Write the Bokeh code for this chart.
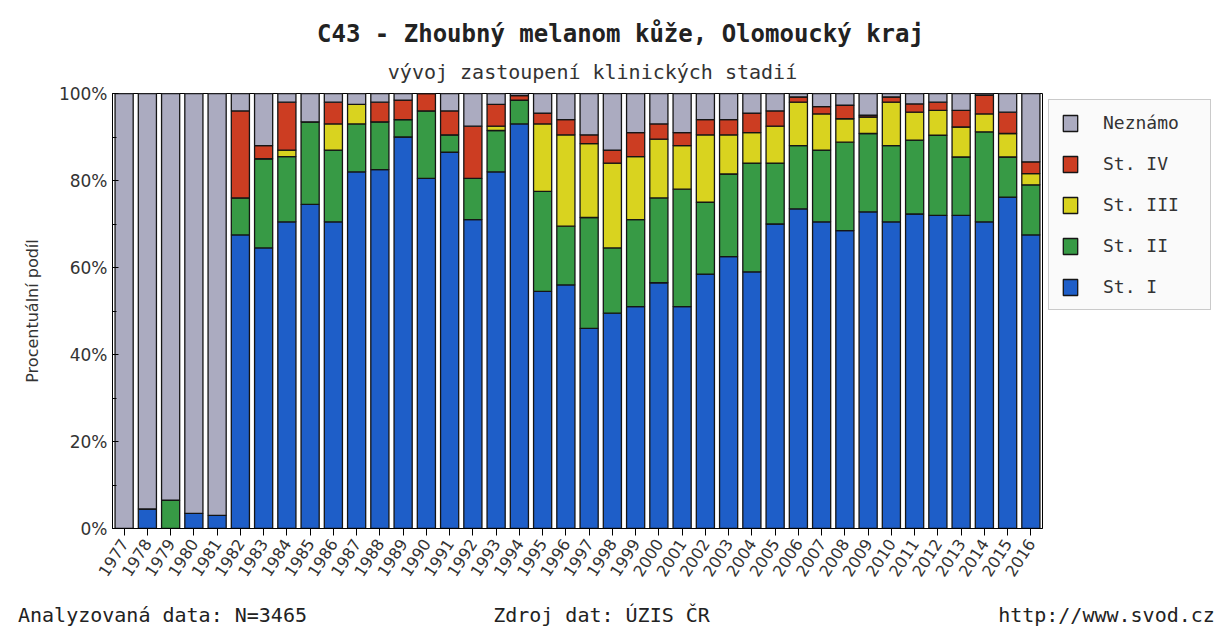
from bokeh.plotting import figure
from bokeh.models import (Range1d, FixedTicker, PrintfTickFormatter, Legend,
                          LegendItem, Label, ColumnDataSource, LinearAxis)
from bokeh.layouts import column
from bokeh.embed import file_html
from bokeh.resources import INLINE

years = list(range(1977, 2017))

st1 = [0, 4.5, 0, 3.5, 3, 67.5, 64.5, 70.5, 74.5, 70.5, 82, 82.5, 90, 80.5, 86.5, 71, 82, 93,
       54.5, 56, 46, 49.5, 51, 56.5, 51, 58.5, 62.5, 59, 70, 73.5, 70.5, 68.5, 72.8, 70.5,
       72.3, 72, 72, 70.5, 76.2, 67.5]
st2 = [0, 0, 6.5, 0, 0, 8.5, 20.5, 15, 19, 16.5, 11, 11, 4, 15.5, 4, 9.5, 9.5, 5.5,
       23, 13.5, 25.5, 15, 20, 19.5, 27, 16.5, 19, 25, 14, 14.5, 16.5, 20.3, 18, 17.5,
       17, 18.4, 13.4, 20.7, 9.2, 11.5]
st3 = [0, 0, 0, 0, 0, 0, 0, 1.5, 0, 6, 4.5, 0, 0, 0, 0, 0, 1, 0,
       15.5, 21, 17, 19.5, 14.5, 13.5, 10, 15.5, 9, 7, 8.5, 10, 8.3, 5.4, 3.8, 10,
       6.4, 5.7, 6.9, 4.1, 5.4, 2.6]
st4 = [0, 0, 0, 0, 0, 20, 3, 11, 0, 5, 0, 4.5, 4.5, 4, 5.5, 12, 5, 1,
       2.5, 3.5, 2, 3, 5.5, 3.5, 3, 3.5, 3.5, 4.5, 3.5, 1.2, 1.7, 3.1, 0.4, 1.2,
       1.9, 1.9, 3.8, 4.3, 4.9, 2.7]
nezn = [100, 95.5, 93.5, 96.5, 97, 4, 12, 2, 6.5, 2, 2.5, 2, 1.5, 0, 4, 7.5, 2.5, 0.5,
        4.5, 6, 9.5, 13, 9, 7, 9, 6, 6, 4.5, 4, 0.8, 3, 2.7, 5, 0.8,
        2.4, 2, 3.9, 0.4, 4.3, 15.7]

stack_keys = ["st1", "st2", "st3", "st4", "nezn"]
stack_names = ["St. I", "St. II", "St. III", "St. IV", "Neznámo"]
stack_colors = ["#1E5EC8", "#379A45", "#D9D31F", "#CC3D22", "#ABABC0"]

y_ticks = [0, 20, 40, 60, 80, 100]
y_minor = [10, 30, 50, 70, 90]

title_text = "C43 - Zhoubný melanom kůže, Olomoucký kraj"
subtitle_text = "vývoj zastoupení klinických stadií"
y_label = "Procentuální podíl"
foot_texts = ["Analyzovaná data: N=3465", "Zdroj dat: ÚZIS ČR", "http://www.svod.cz"]

LEFT = 112          # left border shared by all stacked figures (frames are aligned)
STRIP_W = 1107      # strip frames run from x=112 to the right edge (1219)
HEAD_H = 83


def strip(frame_h, bottom=0):
    """Text strip whose x data coordinates equal page pixels (y down)."""
    f = figure(frame_width=STRIP_W, frame_height=frame_h, output_backend="svg",
               toolbar_location=None,
               x_range=Range1d(LEFT, LEFT + STRIP_W), y_range=Range1d(frame_h, 0),
               x_axis_type=None, y_axis_type=None,
               min_border_left=LEFT, min_border_right=0,
               min_border_top=0, min_border_bottom=bottom)
    f.outline_line_color = None
    f.grid.visible = False
    f.background_fill_color = "white"
    f.border_fill_color = "white"
    return f


# header with title and subtitle
head = strip(HEAD_H)
head.add_layout(Label(x=620, y=33, text=title_text, text_align="center",
                      text_baseline="middle", text_font="DejaVu Sans Mono",
                      text_font_style="bold", text_font_size="24px", text_color="#222222"))
head.add_layout(Label(x=592, y=71, text=subtitle_text, text_align="center",
                      text_baseline="middle", text_font="DejaVu Sans Mono",
                      text_font_size="20px", text_color="#333333"))

# main chart
src = ColumnDataSource(dict(year=years, st1=st1, st2=st2, st3=st3, st4=st4, nezn=nezn))

p = figure(frame_width=930, frame_height=435, output_backend="svg", toolbar_location=None,
           x_range=Range1d(1976.5, 2016.5), y_range=Range1d(0, 100),
           min_border_left=LEFT, min_border_right=177, min_border_top=10,
           min_border_bottom=60)
p.background_fill_color = "white"
p.border_fill_color = "white"
p.outline_line_color = "black"
p.outline_line_width = 1
p.xgrid.visible = False
p.ygrid.visible = False

rs = p.vbar_stack(stack_keys, x="year", width=0.78, source=src,
                  fill_color=stack_colors, line_color="#151515", line_width=1.3)

p.yaxis.ticker = FixedTicker(ticks=y_ticks, minor_ticks=y_minor)
p.yaxis.formatter = PrintfTickFormatter(format="%d%%")
p.yaxis.major_tick_in = 6
p.yaxis.major_tick_out = 0
p.yaxis.minor_tick_in = 4
p.yaxis.minor_tick_out = 0
p.yaxis.major_label_text_font = "DejaVu Sans"
p.yaxis.major_label_text_font_size = "17px"
p.yaxis.major_label_text_color = "#333333"
p.yaxis.axis_label = y_label
p.yaxis.axis_label_text_font = "DejaVu Sans"
p.yaxis.axis_label_text_font_style = "normal"
p.yaxis.axis_label_text_font_size = "16px"
p.yaxis.axis_label_text_color = "#333333"
p.yaxis.axis_label_standoff = 14
p.yaxis.axis_line_color = "black"

p.xaxis.ticker = FixedTicker(ticks=years, minor_ticks=[])
p.xaxis.major_tick_in = 0
p.xaxis.major_tick_out = 7
p.xaxis.major_label_orientation = 1.0
p.xaxis.major_label_text_font = "DejaVu Sans"
p.xaxis.major_label_text_font_size = "16px"
p.xaxis.major_label_text_color = "#333333"
p.xaxis.axis_line_color = "black"

items = [LegendItem(label=stack_names[i], renderers=[rs[i]]) for i in [4, 3, 2, 1, 0]]
leg = Legend(items=items, location="top_left", margin=6, padding=12, spacing=20,
             glyph_width=18, glyph_height=20, label_height=20, label_standoff=24,
             label_width=95,
             label_text_font="DejaVu Sans Mono", label_text_font_size="18px",
             label_text_color="#333333", border_line_color="#9a9a9a",
             background_fill_color="#fafafa", background_fill_alpha=1.0)
p.add_layout(leg, "right")

# footer: one text row drawn as the labels of a tick-less axis (page-pixel positions)
foot_pos = [162, 601, 1106]
foot = strip(2)
fax = LinearAxis(ticker=FixedTicker(ticks=foot_pos, minor_ticks=[]),
                 major_label_overrides={k: t for k, t in zip(foot_pos, foot_texts)},
                 axis_line_color=None, major_tick_line_color=None,
                 minor_tick_line_color=None, major_label_standoff=6,
                 major_label_text_font="DejaVu Sans Mono",
                 major_label_text_font_size="20px",
                 major_label_text_color="#222222")
foot.add_layout(fax, "below")

layout = column(head, p, foot, spacing=0)
open("out.html", "w").write(file_html(layout, INLINE))
